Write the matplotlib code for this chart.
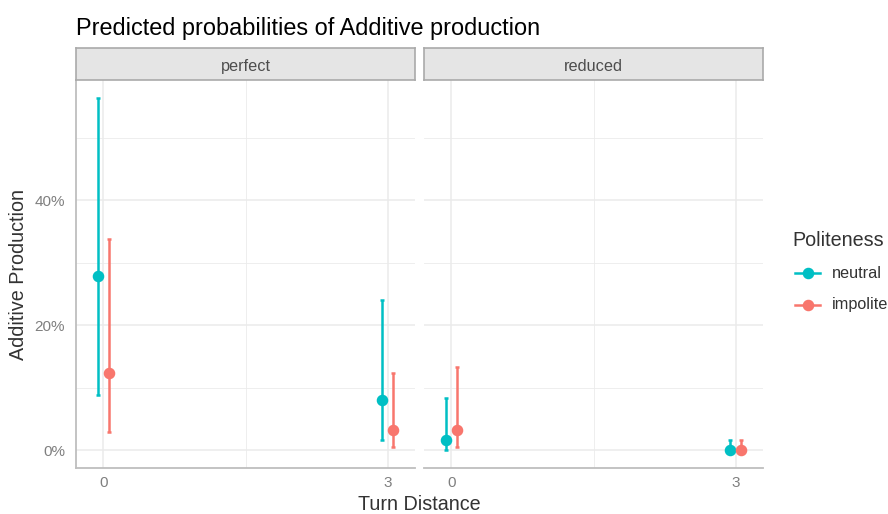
import matplotlib
matplotlib.use("Agg")
import matplotlib.pyplot as plt
from matplotlib.ticker import FuncFormatter, FixedLocator

plt.rcParams['font.family'] = ['Liberation Sans', 'DejaVu Sans']

# data (values in %)
facets = ['perfect', 'reduced']
turn_distance = [0, 3]
groups = ['neutral', 'impolite']
colors = {'neutral': '#00BFC4', 'impolite': '#F8766D'}

predicted = {
    'perfect': {'neutral': [27.9, 8.1], 'impolite': [12.4, 3.3]},
    'reduced': {'neutral': [1.7, 0.1], 'impolite': [3.3, 0.1]},
}
conf_low = {
    'perfect': {'neutral': [8.8, 1.7], 'impolite': [3.0, 0.5]},
    'reduced': {'neutral': [0.1, 0.0], 'impolite': [0.5, 0.0]},
}
conf_high = {
    'perfect': {'neutral': [56.3, 24.0], 'impolite': [33.8, 12.4]},
    'reduced': {'neutral': [8.4, 1.7], 'impolite': [13.4, 1.7]},
}

dodge = {'neutral': -0.06, 'impolite': 0.06}
W, H = 888, 514
fig = plt.figure(figsize=(W / 100, H / 100), dpi=100)

panel_left = [76, 424]
panel_w = 339
panel_top, panel_bot = 80, 468
strip_top = 48

grid_col = '#EBEBEB'
for i, facet in enumerate(facets):
    l = panel_left[i]
    ax = fig.add_axes([l / W, 1 - panel_bot / H, panel_w / W, (panel_bot - panel_top) / H])
    for g in groups:
        xs = [x + dodge[g] for x in turn_distance]
        ys = predicted[facet][g]
        lo = [y - a for y, a in zip(ys, conf_low[facet][g])]
        hi = [b - y for y, b in zip(ys, conf_high[facet][g])]
        ax.errorbar(xs, ys, yerr=[lo, hi], fmt='o', color=colors[g], ms=7.3,
                    elinewidth=1.8, capsize=1.6, capthick=1.8, zorder=3)
    ax.set_xlim(-0.29, 3.29)
    ax.set_ylim(-2.8, 59.2)
    ax.xaxis.set_major_locator(FixedLocator([0, 3]))
    ax.xaxis.set_minor_locator(FixedLocator([1.5]))
    ax.yaxis.set_major_locator(FixedLocator([0, 20, 40]))
    ax.yaxis.set_minor_locator(FixedLocator([10, 30, 50]))
    ax.yaxis.set_major_formatter(FuncFormatter(lambda v, p: f'{v:.0f}%'))
    ax.grid(which='major', color=grid_col, lw=1.1, zorder=0)
    ax.grid(which='minor', color=grid_col, lw=0.6, zorder=0)
    ax.set_axisbelow(True)
    ax.tick_params(which='both', length=0, labelsize=11, labelcolor='#7F7F7F', pad=6)
    ax.tick_params(axis='y', pad=8)
    for s in ['top', 'right']:
        ax.spines[s].set_visible(False)
    ax.spines['bottom'].set_color('#BEBEBE')
    ax.spines['bottom'].set_linewidth(1.3)
    if i == 0:
        ax.spines['left'].set_color('#BEBEBE')
        ax.spines['left'].set_linewidth(1.3)
    else:
        ax.spines['left'].set_visible(False)
        ax.set_yticklabels([])

    # facet strip
    sax = fig.add_axes([l / W, 1 - panel_top / H, panel_w / W, (panel_top - strip_top) / H])
    sax.set_facecolor('#E5E5E5')
    sax.set_xticks([])
    sax.set_yticks([])
    for s in sax.spines.values():
        s.set_color('#AAAAAA')
        s.set_linewidth(1.2)
    sax.text(0.5, 0.42, facet, ha='center', va='center', fontsize=11.7,
             color='#4D4D4D', transform=sax.transAxes)

fig.text(76 / W, 1 - 28 / H, 'Predicted probabilities of Additive production',
         fontsize=16.9, ha='left', va='center', color='black')
fig.text(419 / W, 1 - 505 / H, 'Turn Distance', fontsize=14.2, ha='center',
         va='center', color='#333333')
fig.text(18 / W, 1 - 274 / H, 'Additive Production', fontsize=14.2, ha='center',
         va='center', rotation=90, color='#333333')

# legend
fig.text(792 / W, 1 - 240 / H, 'Politeness', fontsize=14.2, ha='left', va='center',
         color='#333333')
for j, g in enumerate(groups):
    yy = 1 - (273 + 32 * j) / H
    fig.lines.append(plt.Line2D([795 / W, 820 / W], [yy, yy], transform=fig.transFigure,
                                color=colors[g], lw=1.8))
    fig.lines.append(plt.Line2D([807.5 / W], [yy], transform=fig.transFigure,
                                color=colors[g], marker='o', ms=7.3))
    fig.text(832 / W, yy, g, fontsize=11.7, ha='left', va='center', color='#333333')

fig.savefig('out.png', dpi=100)
